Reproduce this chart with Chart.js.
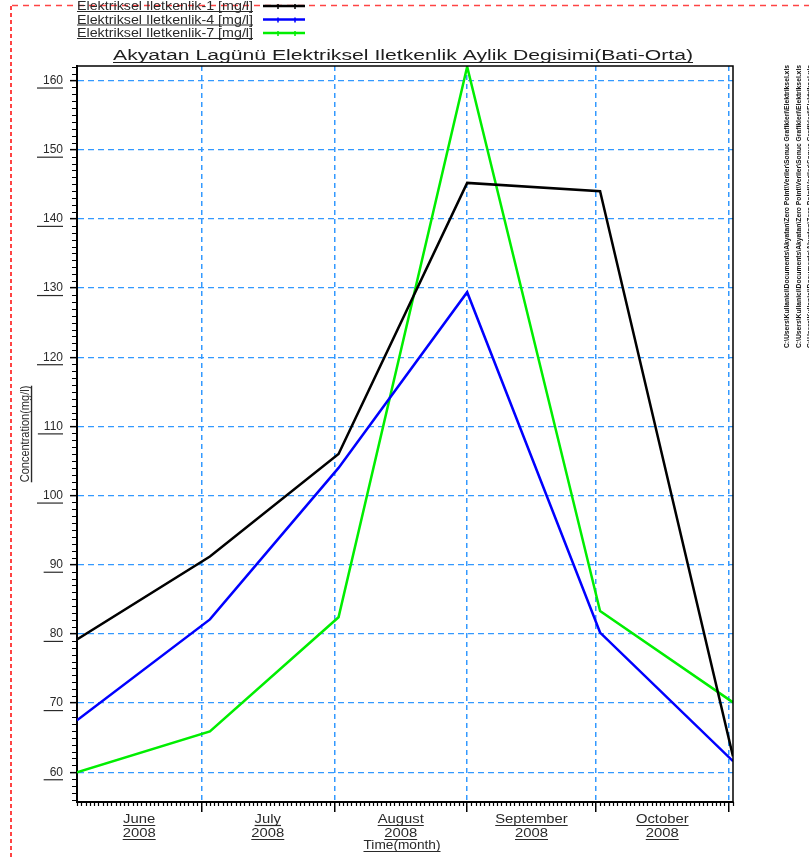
<!DOCTYPE html>
<html lang="tr">
<head>
<meta charset="UTF-8">
<title>Akyatan Lagünü Elektriksel Iletkenlik</title>
<script src="https://cdn.jsdelivr.net/npm/chart.js"></script>
<style>
  body { margin: 0; background: #fff; }
  canvas { display: block; }
</style>
</head>
<body>
<canvas id="chart" width="809" height="857"></canvas>
<script>
  // x = days since 1 June 2008
  const sampleDays = [0, 31, 61, 91, 122, 153];
  const iletkenlik1 = [79.2, 91.2, 106.0, 145.2, 144.0, 62.3];
  const iletkenlik4 = [67.5, 82.1, 104.0, 129.4, 80.2, 61.6];
  const iletkenlik7 = [60.0, 65.9, 82.4, 162.0, 83.3, 70.1];
  const seriesNames = ['Elektriksel Iletkenlik-1 [mg/l]', 'Elektriksel Iletkenlik-4 [mg/l]', 'Elektriksel Iletkenlik-7 [mg/l]'];
  const seriesColors = ['#000000', '#0000ff', '#00ee00'];
  const monthEnds = [29, 60, 91, 121, 152];
  const monthNames = ['June', 'July', 'August', 'September', 'October'];
  const yearLabel = '2008';
  const titleText = 'Akyatan Lagünü Elektriksel Iletkenlik Aylik Degisimi(Bati-Orta)';
  const xTitle = 'Time(month)';
  const yTitle = 'Concentration(mg/l)';
  const filePaths = [
    'C:\\Users\\Kullanici\\Documents\\Akyatan\\Zero Point\\Veriler\\Sonuc Grafikleri\\Elektriksel.xls',
    'C:\\Users\\Kullanici\\Documents\\Akyatan\\Zero Point\\Veriler\\Sonuc Grafikleri\\Elektriksel.xls',
    'C:\\Users\\Kullanici\\Documents\\Akyatan\\Zero Point\\Veriler\\Sonuc Grafikleri\\Elektriksel.xls'
  ];

  const FONT = '"Liberation Sans", Arial, sans-serif';
  const TEXT = '#2a2a2a';

  function pts(values) {
    return values.map((v, i) => ({ x: sampleDays[i], y: v }));
  }

  function stretchText(ctx, text, x, y, sx, align) {
    ctx.save();
    ctx.translate(x, y);
    ctx.scale(sx, 1);
    ctx.textAlign = align || 'left';
    ctx.fillText(text, 0, 0);
    ctx.restore();
    return ctx.measureText(text).width * sx;
  }

  function hline(ctx, x1, x2, y, w) {
    ctx.beginPath();
    ctx.lineWidth = w || 1;
    ctx.moveTo(x1, y);
    ctx.lineTo(x2, y);
    ctx.stroke();
  }

  const decor = {
    id: 'decor',
    afterDraw(chart) {
      const ctx = chart.ctx;
      const a = chart.chartArea;
      const xs = chart.scales.x, ys = chart.scales.y;
      ctx.save();
      ctx.textBaseline = 'alphabetic';
      ctx.fillStyle = TEXT;
      ctx.strokeStyle = TEXT;

      // red page border
      ctx.save();
      ctx.strokeStyle = '#ff4444';
      ctx.lineWidth = 1.5;
      ctx.setLineDash([6, 5]);
      hline(ctx, 12, 809, 5.5, 1.5);
      ctx.lineWidth = 2;
      ctx.setLineDash([4, 3]);
      ctx.beginPath();
      ctx.moveTo(11, 6);
      ctx.lineTo(11, 857);
      ctx.stroke();
      ctx.restore();

      // frame top & right
      ctx.save();
      ctx.strokeStyle = '#000';
      ctx.lineWidth = 1.5;
      ctx.beginPath();
      ctx.moveTo(a.left, a.top);
      ctx.lineTo(a.right, a.top);
      ctx.lineTo(a.right, a.bottom);
      ctx.stroke();
      ctx.restore();

      // minor ticks
      ctx.save();
      ctx.strokeStyle = '#000';
      ctx.lineWidth = 1.2;
      ctx.beginPath();
      for (let v = Math.ceil(ys.min); v <= ys.max; v++) {
        if (v % 10 === 0) continue;
        const y = Math.round(ys.getPixelForValue(v)) + 0.5;
        ctx.moveTo(a.left - 5, y);
        ctx.lineTo(a.left, y);
      }
      for (let d = 0; d <= xs.max; d++) {
        if (monthEnds.includes(d)) continue;
        const x = Math.round(xs.getPixelForValue(d)) + 0.5;
        ctx.moveTo(x, a.bottom);
        ctx.lineTo(x, a.bottom + 4);
      }
      ctx.stroke();
      ctx.restore();

      // y tick underlines
      ctx.font = '12px ' + FONT;
      ys.ticks.forEach(t => {
        const y = ys.getPixelForValue(t.value);
        const w = ctx.measureText(String(t.value)).width;
        hline(ctx, 63 - w - 6, 63, y + 7.5, 1.2);
      });

      // x month labels
      ctx.font = '13px ' + FONT;
      monthNames.forEach((m, i) => {
        const start = i === 0 ? 0 : monthEnds[i - 1];
        const cx = xs.getPixelForValue((start + monthEnds[i]) / 2);
        let w = stretchText(ctx, m, cx, 823, 1.14, 'center');
        hline(ctx, cx - w / 2, cx + w / 2, 825.5, 1.2);
        w = stretchText(ctx, yearLabel, cx, 837, 1.14, 'center');
        hline(ctx, cx - w / 2, cx + w / 2, 839.5, 1.2);
      });
      ctx.font = '12px ' + FONT;
      let w = stretchText(ctx, xTitle, 402, 849, 1.14, 'center');
      hline(ctx, 402 - w / 2, 402 + w / 2, 851.5, 1.2);

      // y title
      ctx.save();
      ctx.translate(29, 434);
      ctx.rotate(-Math.PI / 2);
      ctx.font = '11px ' + FONT;
      ctx.textAlign = 'center';
      ctx.scale(1, 1.15);
      ctx.fillText(yTitle, 0, 0);
      const tw = ctx.measureText(yTitle).width;
      hline(ctx, -tw / 2, tw / 2, 2.2, 1.2);
      ctx.restore();

      // title
      ctx.fillStyle = '#1e1e1e';
      ctx.strokeStyle = '#1e1e1e';
      ctx.font = '15.5px ' + FONT;
      const tsx = 580 / ctx.measureText(titleText).width;
      stretchText(ctx, titleText, 403, 59.5, tsx, 'center');
      hline(ctx, 113, 693, 62.5, 1.2);

      // legend
      ctx.fillStyle = TEXT;
      ctx.strokeStyle = TEXT;
      ctx.font = '12px ' + FONT;
      const rows = [10, 23.5, 37];
      chart.data.datasets.forEach((ds, i) => {
        const base = rows[i];
        const lsx = 176 / ctx.measureText(ds.label).width;
        stretchText(ctx, ds.label, 77, base, lsx, 'left');
        hline(ctx, 77, 253, base + 1.5, 1.2);
        ctx.save();
        ctx.strokeStyle = ds.borderColor;
        hline(ctx, 263, 305, base - 4, 2.5);
        ctx.lineWidth = 1.5;
        ctx.beginPath();
        [278, 295].forEach(x => { ctx.moveTo(x, base - 6); ctx.lineTo(x, base - 1); });
        ctx.stroke();
        ctx.restore();
      });

      // file paths on the right
      ctx.save();
      ctx.fillStyle = '#111';
      ctx.font = 'bold 8px ' + FONT;
      [789, 801, 812].forEach((x, i) => {
        ctx.save();
        ctx.translate(x, 348);
        ctx.rotate(-Math.PI / 2);
        const fw = ctx.measureText(filePaths[i]).width;
        ctx.scale(283 / fw, 1);
        ctx.fillText(filePaths[i], 0, 0);
        ctx.restore();
      });
      ctx.restore();

      ctx.restore();
    }
  };

  const gridBlue = '#3399ff';

  new Chart(document.getElementById('chart').getContext('2d'), {
    type: 'line',
    data: {
      datasets: [
        { label: seriesNames[0], data: pts(iletkenlik1), borderColor: seriesColors[0] },
        { label: seriesNames[1], data: pts(iletkenlik4), borderColor: seriesColors[1] },
        { label: seriesNames[2], data: pts(iletkenlik7), borderColor: seriesColors[2] }
      ]
    },
    options: {
      responsive: false,
      animation: false,
      layout: { padding: { left: 0, top: 66, right: 76, bottom: 0 } },
      elements: {
        line: { borderWidth: 2.5, tension: 0, fill: false },
        point: { radius: 0, hoverRadius: 0 }
      },
      plugins: { legend: { display: false }, tooltip: { enabled: false } },
      scales: {
        x: {
          type: 'linear',
          min: 0,
          max: 153,
          afterBuildTicks: s => { s.ticks = monthEnds.map(v => ({ value: v })); },
          afterFit: s => { s.height = 55; },
          ticks: { display: false },
          grid: {
            color: gridBlue, lineWidth: 1.5, borderDash: [5, 4],
            tickColor: '#000', tickLength: 10, tickWidth: 1.5, tickBorderDash: []
          },
          border: { display: true, color: '#000', width: 2, dash: [5, 4] }
        },
        y: {
          min: 55.7,
          max: 162.1,
          afterFit: s => { s.width = 77; },
          ticks: {
            stepSize: 10, includeBounds: false, color: TEXT, padding: 7,
            font: { family: FONT, size: 12 }
          },
          grid: {
            color: gridBlue, lineWidth: 1.3, borderDash: [6, 4],
            tickColor: '#000', tickLength: 7, tickWidth: 1.5, tickBorderDash: []
          },
          border: { display: true, color: '#000', width: 2, dash: [6, 4] }
        }
      }
    },
    plugins: [decor]
  });
</script>
</body>
</html>
